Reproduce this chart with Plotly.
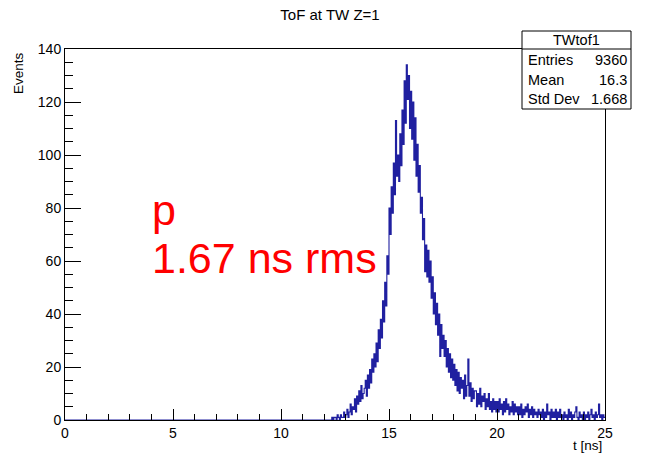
import numpy as np
import plotly.graph_objects as go

# ---- data ----
bin_start = 0.0      # ns
bin_width = 0.05     # ns
x_range = [0, 25]
y_range = [0, 140]
x_ticks = [0, 5, 10, 15, 20, 25]
y_ticks = [0, 20, 40, 60, 80, 100, 120, 140]

counts_0_to_12ns = [
    0, 0, 0, 0, 0, 0, 0, 0, 0, 0, 0, 0, 0, 0, 0, 0, 0, 0, 0, 0,
    0, 0, 0, 0, 0, 0, 0, 0, 0, 0, 0, 0, 0, 0, 0, 0, 0, 0, 0, 0,
    0, 0, 0, 0, 0, 0, 0, 0, 0, 0, 0, 0, 0, 0, 0, 0, 0, 0, 0, 0,
    0, 0, 0, 0, 0, 0, 0, 0, 0, 0, 0, 0, 0, 0, 0, 0, 0, 0, 0, 0,
    0, 0, 0, 0, 0, 0, 0, 0, 0, 0, 0, 0, 0, 0, 0, 0, 0, 0, 0, 0,
    0, 0, 0, 0, 0, 0, 0, 0, 0, 0, 0, 0, 0, 0, 0, 0, 0, 0, 0, 0,
    0, 0, 0, 0, 0, 0, 0, 0, 0, 0, 0, 0, 0, 0, 0, 0, 0, 0, 0, 0,
    0, 0, 0, 0, 0, 0, 0, 0, 0, 0, 0, 0, 0, 0, 0, 0, 0, 0, 0, 0,
    0, 0, 0, 0, 0, 0, 0, 0, 0, 0, 0, 0, 0, 0, 0, 0, 0, 0, 0, 0,
    0, 0, 0, 0, 0, 0, 0, 0, 0, 0, 0, 0, 0, 0, 0, 0, 0, 0, 0, 0,
    0, 0, 0, 0, 0, 0, 0, 0, 0, 0, 0, 0, 0, 0, 0, 0, 0, 0, 0, 0,
    0, 0, 0, 0, 0, 0, 0, 0, 0, 0, 0, 0, 0, 0, 0, 0, 0, 0, 0, 0,
]
counts_12_to_25ns = [
    0, 0, 0, 0, 0, 0, 0, 1, 0, 1, 1, 0, 2, 1, 0, 2, 1, 1, 3, 1,                       # 12
    2, 4, 1, 3, 6, 2, 5, 4, 8, 3, 9, 6, 11, 7, 13, 8, 10, 12, 15, 9,                  # 13
    17, 12, 19, 14, 23, 18, 25, 20, 29, 22, 34, 27, 38, 31, 45, 37, 52, 43, 62, 55,   # 14
    80, 70, 88, 78, 97, 85, 113, 92, 100, 90, 108, 96, 117, 104, 128, 112, 134, 121, 130, 110,  # 15
    124, 106, 120, 98, 114, 92, 104, 86, 96, 78, 84, 68, 76, 56, 66, 54, 64, 52, 60, 46,  # 16
    54, 40, 48, 36, 44, 32, 40, 24, 36, 27, 32, 24, 30, 20, 27, 18, 25, 16, 23, 15,   # 17
    21, 13, 19, 11, 18, 10, 16, 12, 15, 8, 17, 9, 13, 23, 9, 14, 7, 12, 8, 11,        # 18
    11, 5, 10, 6, 12, 5, 9, 7, 10, 4, 8, 5, 10, 4, 7, 3, 8, 4, 7, 3,                  # 19
    7, 3, 8, 4, 6, 2, 7, 3, 8, 4, 6, 2, 5, 3, 7, 2, 6, 3, 5, 2,                       # 20
    5, 2, 6, 1, 4, 2, 5, 3, 6, 1, 4, 2, 5, 1, 4, 2, 3, 1, 4, 2,                       # 21
    3, 1, 4, 0, 3, 1, 6, 2, 3, 0, 4, 1, 3, 1, 4, 0, 3, 1, 4, 1,                       # 22
    2, 0, 3, 1, 2, 0, 4, 1, 3, 0, 2, 1, 3, 5, 1, 0, 3, 1, 2, 0,                       # 23
    3, 0, 2, 1, 3, 0, 2, 4, 1, 2, 0, 3, 1, 2, 6, 1, 2, 0, 2, 1,                       # 24
]

title_text = "ToF at TW Z=1"
x_title = "t [ns]"
y_title = "Events"
stats_name = "TWtof1"
stats_labels = ["Entries", "Mean", "Std Dev"]
stats_values = ["9360", "16.3", "1.668"]
note_lines = ["p", "1.67 ns rms"]

# ---- build step outline ----
counts = counts_0_to_12ns + counts_12_to_25ns
n = len(counts)
edges = bin_start + bin_width * np.arange(n + 1)
ys = counts + [counts[-1]]

FONT = "Liberation Sans, Arial, Helvetica, sans-serif"
LINE = "#2020a0"

fig = go.Figure()
fig.add_trace(go.Scatter(x=edges, y=ys, mode="lines", line=dict(color=LINE, width=1.1, shape="hv"),
                         hoverinfo="skip", showlegend=False))

# pixel layout helpers
L, R, T, B = 65, 605, 49, 420
W, H = 660, 454
def px(x):
    return (x - L) / (R - L)
def py(y):
    return (B - y) / (B - T)

fig.update_layout(
    width=W, height=H,
    margin=dict(l=L, r=W - R, t=T, b=H - B, autoexpand=False),
    paper_bgcolor="white", plot_bgcolor="white",
    font=dict(family=FONT, size=14, color="black"),
    title=dict(text=title_text, x=0.5, xref="container", xanchor="center",
               y=1 - 15 / H, yref="container", yanchor="middle",
               font=dict(family=FONT, size=15, color="black")),
    showlegend=False,
)
fig.update_xaxes(range=x_range, tickvals=x_ticks, ticks="inside", ticklen=11, tickwidth=1,
                 tickcolor="black", showline=True, linecolor="black", linewidth=1, mirror=True,
                 showgrid=False, zeroline=False, tickfont=dict(size=14), automargin=False,
                 minor=dict(dtick=1, ticks="inside", ticklen=6, tickcolor="black", showgrid=False))
fig.update_yaxes(range=y_range, tickvals=y_ticks, ticks="inside", ticklen=16, tickwidth=1,
                 tickcolor="black", showline=True, linecolor="black", linewidth=1, mirror=True,
                 showgrid=False, zeroline=False, tickfont=dict(size=14), automargin=False,
                 minor=dict(dtick=5, ticks="inside", ticklen=8, tickcolor="black", showgrid=False))

ann = []
# axis titles
ann.append(dict(text=x_title, xref="paper", yref="paper", x=px(604), y=py(445),
                xanchor="right", yanchor="middle", showarrow=False, font=dict(size=13.5)))
ann.append(dict(text=y_title, xref="paper", yref="paper", x=px(18), y=py(73),
                xanchor="center", yanchor="middle", textangle=-90, showarrow=False, font=dict(size=13.5)))
# red note
ann.append(dict(text=note_lines[0], xref="paper", yref="paper", x=px(150), y=py(210),
                xanchor="left", yanchor="middle", showarrow=False, font=dict(size=43, color="red")))
ann.append(dict(text=note_lines[1], xref="paper", yref="paper", x=px(150), y=py(258),
                xanchor="left", yanchor="middle", showarrow=False, font=dict(size=43, color="red")))

# stats box
bx0, bx1, by0, by1, hsep = 522, 631, 31, 109, 49
shapes = [
    dict(type="rect", xref="paper", yref="paper", x0=px(bx0), x1=px(bx1), y0=py(by1), y1=py(by0),
         line=dict(color="black", width=1), fillcolor="white", layer="above"),
    dict(type="line", xref="paper", yref="paper", x0=px(bx0), x1=px(bx1), y0=py(hsep), y1=py(hsep),
         line=dict(color="black", width=1), layer="above"),
]
ann.append(dict(text=stats_name, xref="paper", yref="paper", x=px((bx0 + bx1) / 2), y=py(40),
                xanchor="center", yanchor="middle", showarrow=False, font=dict(size=14.5)))
for i, (lab, val) in enumerate(zip(stats_labels, stats_values)):
    yy = 60 + i * 19.5
    ann.append(dict(text=lab, xref="paper", yref="paper", x=px(526), y=py(yy),
                    xanchor="left", yanchor="middle", showarrow=False, font=dict(size=14.5)))
    ann.append(dict(text=val, xref="paper", yref="paper", x=px(629), y=py(yy),
                    xanchor="right", yanchor="middle", showarrow=False, font=dict(size=14.5)))

fig.update_layout(annotations=ann, shapes=shapes)
fig.write_html("out.html", config={"displayModeBar": False},
               post_script="document.body.style.margin='0';")
